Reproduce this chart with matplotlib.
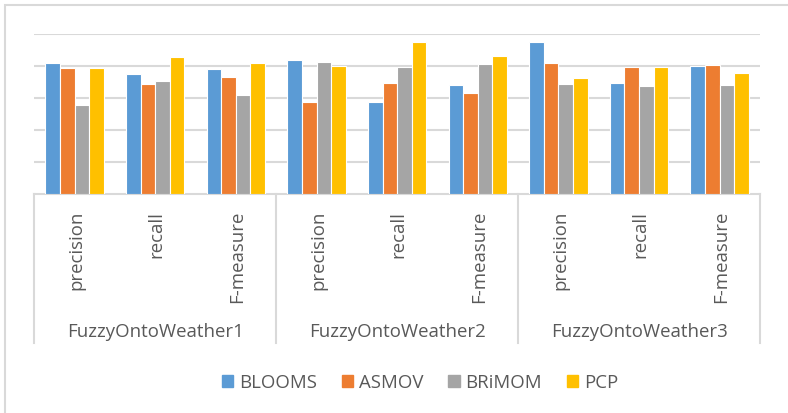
import matplotlib
matplotlib.use("Agg")
import matplotlib.pyplot as plt
from matplotlib.patches import Rectangle
from matplotlib.lines import Line2D
import matplotlib.transforms as mtransforms
import numpy as np

groups = ["FuzzyOntoWeather1", "FuzzyOntoWeather2", "FuzzyOntoWeather3"]
metrics = ["precision", "recall", "F-measure"]
series_names = ["BLOOMS", "ASMOV", "BRiMOM", "PCP"]
colors = ["#5B9BD5", "#ED7D31", "#A5A5A5", "#FFC000"]

blooms = [0.817, 0.748, 0.780, 0.838, 0.576, 0.682, 0.948, 0.694, 0.802]
asmov = [0.788, 0.686, 0.734, 0.576, 0.694, 0.630, 0.817, 0.796, 0.807]
brimom = [0.557, 0.707, 0.622, 0.827, 0.796, 0.811, 0.686, 0.676, 0.682]
pcp = [0.788, 0.857, 0.819, 0.798, 0.948, 0.863, 0.723, 0.796, 0.759]
yticks = [0.2, 0.4, 0.6, 0.8, 1.0]

series = [blooms, asmov, brimom, pcp]

W, H = 788, 414
fig = plt.figure(figsize=(W / 100, H / 100), dpi=100)
plt.rcParams['font.family'] = ['Open Sans', 'DejaVu Sans']
txtc = "#595959"
gridc = "#D9D9D9"
fs = 13.4

def fy(py):
    return 1 - py / H

def fx(px):
    return px / W

left, right, top, base = 34.3, 760, 35, 195.3
ax = fig.add_axes([fx(left), fy(base), fx(right) - fx(left), fy(top) - fy(base)])

n = len(metrics) * len(groups)
x = np.arange(n)
bw = 0.181
for i, (vals, col, name) in enumerate(zip(series, colors, series_names)):
    ax.bar(x + (i - 1.5) * bw, vals, width=bw, color=col, edgecolor="white",
           linewidth=0.8, label=name, zorder=3)

ax.set_xlim(-0.5, n - 0.5)
ax.set_ylim(0, 1.0)
ax.set_yticks(yticks)
ax.yaxis.grid(True, color=gridc, linewidth=1.5)
ax.set_axisbelow(True)
ax.tick_params(left=False, labelleft=False, bottom=False, labelbottom=False)
for s in ["top", "right", "left"]:
    ax.spines[s].set_visible(False)
ax.spines["bottom"].set_color(gridc)
ax.spines["bottom"].set_linewidth(1.5)

trans = mtransforms.blended_transform_factory(ax.transData, fig.transFigure)

# category labels
labels = metrics * len(groups)
for xi, lab in zip(x, labels):
    ax.text(xi + 0.02, fy(211), lab, transform=trans, rotation=90, ha="center", va="top",
            fontsize=fs, color=txtc)

# group labels
for gi, g in enumerate(groups):
    ax.text(gi * 3 + 1, fy(337), g, transform=trans, ha="center", va="baseline",
            fontsize=fs, color=txtc)

# separators
for sx in [-0.5, 2.5, 5.5, 8.5]:
    ax.add_line(Line2D([sx, sx], [fy(base), fy(344)], transform=trans, color=gridc,
                       linewidth=1.5, clip_on=False))

# chart border
fig.patches.append(Rectangle((fx(5), fy(430)), 1.2, fy(5.7) - fy(430), transform=fig.transFigure,
                             fill=False, edgecolor=gridc, linewidth=1.5))

handles = [Rectangle((0, 0), 1, 1, color=c) for c in colors]
leg = fig.legend(handles, series_names, loc="center", bbox_to_anchor=(fx(420), fy(383.5)),
                 ncol=4, frameon=False, fontsize=fs, handlelength=0.6, handleheight=0.6,
                 handletextpad=0.3, columnspacing=1.35, borderpad=0)
for t in leg.get_texts():
    t.set_color(txtc)

fig.savefig("out.png", dpi=100)
